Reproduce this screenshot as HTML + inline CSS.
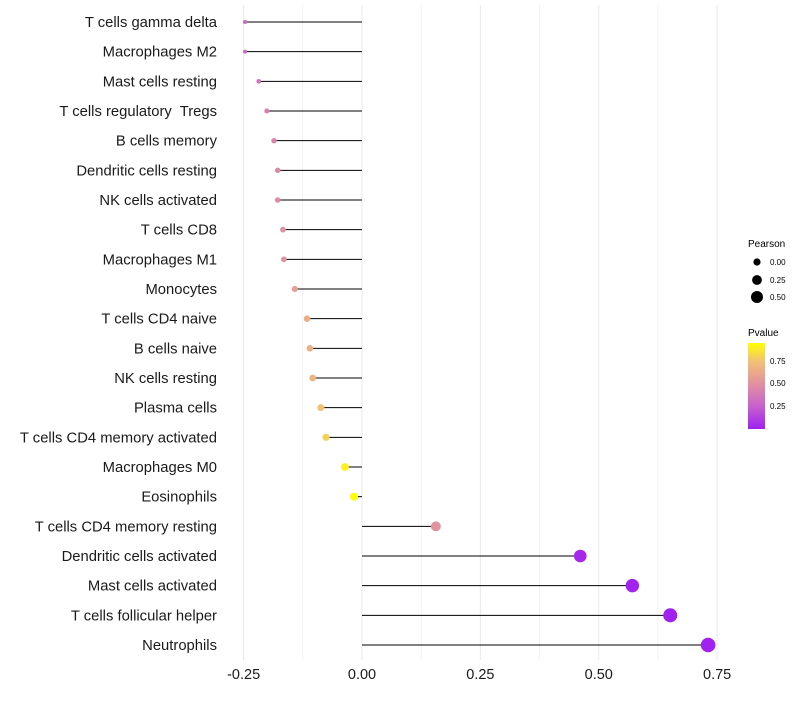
<!DOCTYPE html>
<html><head><meta charset="utf-8"><style>
body{margin:0;background:#fff;font-family:"Liberation Sans",sans-serif}
svg text{font-family:"Liberation Sans",sans-serif;white-space:pre}
</style></head><body>
<svg width="800" height="700" id="c">
<defs><linearGradient id="pg" x1="0" y1="1" x2="0" y2="0">
<stop offset="0" stop-color="#a020f0"/><stop offset="0.26" stop-color="#c75fcf"/>
<stop offset="0.53" stop-color="#e2929f"/><stop offset="0.79" stop-color="#f3c174"/><stop offset="1" stop-color="#ffff00"/>
</linearGradient></defs>
<g id="grid"></g><g id="marks"></g><g id="labels"></g>
<g>
<text x="748" y="247" font-size="10">Pearson</text>
<circle cx="757" cy="262" r="3.6" fill="#000"/><text x="770" y="265" font-size="8">0.00</text>
<circle cx="757" cy="280" r="4.9" fill="#000"/><text x="770" y="283" font-size="8">0.25</text>
<circle cx="757" cy="297" r="6" fill="#000"/><text x="770" y="300" font-size="8">0.50</text>
<text x="748" y="336" font-size="10">Pvalue</text>
<rect x="748" y="343" width="17" height="86" fill="url(#pg)"/>
<text x="770" y="364" font-size="8">0.75</text><text x="770" y="386" font-size="8">0.50</text><text x="770" y="409" font-size="8">0.25</text>
</g>
</svg>
<script>
const categories=["T cells gamma delta","Macrophages M2","Mast cells resting","T cells regulatory  Tregs","B cells memory","Dendritic cells resting","NK cells activated","T cells CD8","Macrophages M1","Monocytes","T cells CD4 naive","B cells naive","NK cells resting","Plasma cells","T cells CD4 memory activated","Macrophages M0","Eosinophils","T cells CD4 memory resting","Dendritic cells activated","Mast cells activated","T cells follicular helper","Neutrophils"];
const pearson=[-0.247,-0.247,-0.218,-0.201,-0.186,-0.178,-0.178,-0.167,-0.165,-0.142,-0.116,-0.110,-0.104,-0.087,-0.076,-0.036,-0.017,0.156,0.461,0.571,0.651,0.731];
const pvalue=[0.3,0.3,0.36,0.4,0.43,0.46,0.46,0.49,0.5,0.57,0.65,0.66,0.68,0.75,0.8,0.9,0.95,0.5,0.03,0.01,0.005,0.002];
const ticks=[-0.25,0,0.25,0.5,0.75];
const tickLabels=["-0.25","0.00","0.25","0.50","0.75"];
const NS="http://www.w3.org/2000/svg";
const X=v=>362+v*473.5;
const Y=i=>22+i*(623/21);
const R=v=>Math.sqrt(Math.max(3,16.6+50.3*v));
const stops=[[0,[160,32,240]],[0.25,[199,95,207]],[0.5,[226,146,159]],[0.75,[243,193,116]],[0.95,[255,255,0]]];
function col(p){p=Math.min(0.95,Math.max(0,p));for(let i=0;i<stops.length-1;i++){const[a,ca]=stops[i],[b,cb]=stops[i+1];if(p<=b){const t=(p-a)/(b-a);return "rgb("+ca.map((c,k)=>Math.round(c+(cb[k]-c)*t)).join(",")+")";}}return "rgb(255,255,0)";}
function mk(t,a,p){const e=document.createElementNS(NS,t);for(const k in a)e.setAttribute(k,a[k]);p.appendChild(e);return e;}
const g=document.getElementById('grid'),m=document.getElementById('marks'),l=document.getElementById('labels');
for(let v=-0.25;v<=0.751;v+=0.125){const e=mk('line',{x1:X(v),x2:X(v),y1:5,y2:660,stroke:"#ebebeb","stroke-width":Math.abs(v*4-Math.round(v*4))<0.01?1.1:0.6},g);

}
ticks.forEach((v,i)=>{const t=mk('text',{x:X(v),y:679,"font-size":14.5,"text-anchor":"middle",fill:"#1a1a1a"},l);t.textContent=tickLabels[i];

});
categories.forEach((c,i)=>{const y=Y(i);
const t=mk('text',{x:217,y:y+5,"font-size":14.8,"text-anchor":"end",fill:"#1a1a1a"},l);t.textContent=c;


const ln=mk('line',{x1:X(0),x2:X(pearson[i]),y1:y,y2:y,stroke:"#000","stroke-width":1},m);


const ci=mk('circle',{cx:X(pearson[i]),cy:y,r:R(pearson[i]),fill:col(pvalue[i])},m);

});
</script>
</body></html>
